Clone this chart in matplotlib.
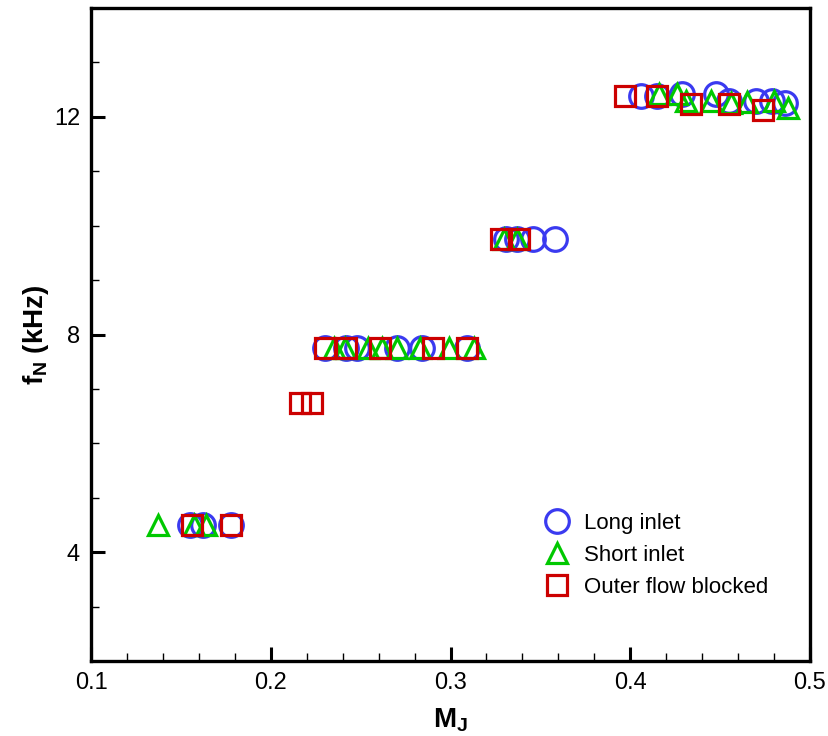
import matplotlib
matplotlib.use('Agg')
import matplotlib.pyplot as plt
from matplotlib.ticker import MultipleLocator

plt.rcParams['font.family'] = ['Liberation Sans', 'DejaVu Sans']
plt.rcParams['mathtext.fontset'] = 'custom'
plt.rcParams['mathtext.rm'] = 'Liberation Sans'
plt.rcParams['mathtext.bf'] = 'Liberation Sans:bold'

# Long inlet
long_m = [0.155, 0.162, 0.178,
          0.230, 0.242, 0.248, 0.270, 0.284, 0.309,
          0.331, 0.337, 0.346, 0.358,
          0.406, 0.415, 0.429, 0.448, 0.455, 0.470, 0.479, 0.486]
long_f = [4.5, 4.5, 4.5,
          7.75, 7.75, 7.75, 7.75, 7.75, 7.75,
          9.75, 9.75, 9.75, 9.75,
          12.38, 12.38, 12.42, 12.42, 12.3, 12.3, 12.3, 12.26]

# Short inlet
short_m = [0.137, 0.157, 0.164,
           0.235, 0.241, 0.254, 0.262, 0.270, 0.283, 0.299, 0.313,
           0.330, 0.337,
           0.416, 0.426, 0.431, 0.445, 0.456, 0.465, 0.480, 0.488]
short_f = [4.5, 4.5, 4.5,
           7.75, 7.75, 7.75, 7.75, 7.75, 7.75, 7.75, 7.75,
           9.75, 9.75,
           12.42, 12.42, 12.3, 12.3, 12.26, 12.28, 12.3, 12.16]

# Outer flow blocked
outer_m = [0.156, 0.178,
           0.216, 0.223,
           0.230, 0.242, 0.261, 0.290, 0.309,
           0.328, 0.338,
           0.397, 0.415, 0.434, 0.455, 0.474]
outer_f = [4.5, 4.5,
           6.75, 6.75,
           7.75, 7.75, 7.75, 7.75, 7.75,
           9.75, 9.75,
           12.38, 12.38, 12.24, 12.24, 12.13]

fig = plt.figure(figsize=(8.29, 7.36), dpi=100)
ax = fig.add_axes([0.110, 0.102, 0.867, 0.887])

ax.plot(long_m, long_f, 'o', ms=17, mfc='none', mec='#3a3af0', mew=2.3,
        label='Long inlet')
ax.plot(short_m, short_f, '^', ms=15, mfc='none', mec='#00c800', mew=2.3,
        label='Short inlet')
ax.plot(outer_m, outer_f, 's', ms=14, mfc='none', mec='#cc0000', mew=2.3,
        label='Outer flow blocked')

ax.set_xlim(0.1, 0.5)
ax.set_ylim(2, 14)
ax.xaxis.set_major_locator(MultipleLocator(0.1))
ax.xaxis.set_minor_locator(MultipleLocator(0.02))
ax.yaxis.set_major_locator(MultipleLocator(4))
ax.yaxis.set_minor_locator(MultipleLocator(1))
ax.tick_params(which='both', direction='in', labelsize=17, pad=8)
ax.tick_params(which='major', length=10, width=2.2)
ax.tick_params(which='minor', length=6, width=1)
for s in ax.spines.values():
    s.set_linewidth(2.4)

ax.set_xlabel(r'$\mathbf{M_J}$', fontsize=20, labelpad=9)
ax.set_ylabel(r'$\mathbf{f_N}$ (kHz)', fontsize=20, fontweight='bold', labelpad=2)

ax.legend(loc='upper left', bbox_to_anchor=(0.633, 0.227), frameon=False,
          fontsize=16, handlelength=1.0, handletextpad=0.7, labelspacing=0.5,
          borderpad=0, borderaxespad=0)

fig.savefig('out.png', dpi=100)
